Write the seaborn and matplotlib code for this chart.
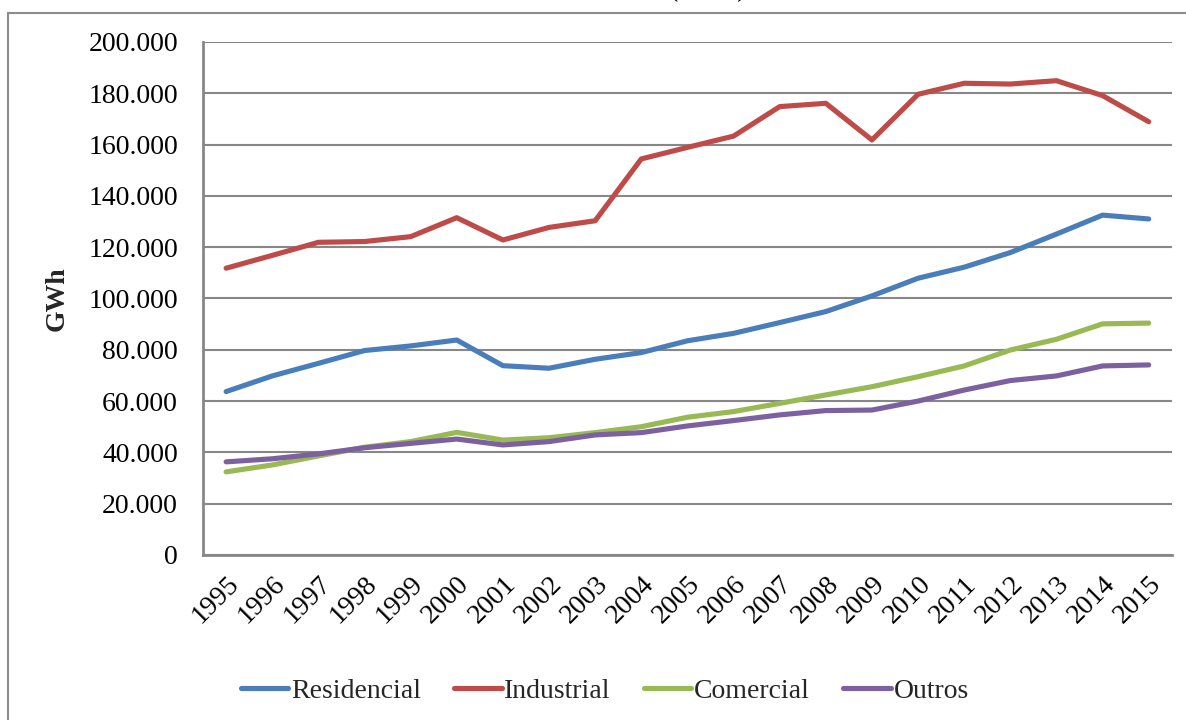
import matplotlib
matplotlib.use("Agg")
import matplotlib.pyplot as plt
import matplotlib.ticker as mticker
from matplotlib.patches import Rectangle
from matplotlib.lines import Line2D
import seaborn as sns
import pandas as pd

# Consumo de energia elétrica por classe, em GWh
anos = [str(a) for a in range(1995, 2016)]
residencial = [63.7, 69.8, 74.7, 79.7, 81.5, 83.8, 73.8, 72.8, 76.3, 78.9, 83.5,
               86.4, 90.6, 94.9, 101.0, 107.9, 112.2, 117.9, 125.1, 132.5, 131.0]
industrial = [111.8, 116.8, 121.9, 122.2, 124.1, 131.5, 122.8, 127.7, 130.3, 154.4, 158.9,
              163.3, 174.8, 176.1, 161.8, 179.6, 183.9, 183.6, 184.9, 179.1, 168.9]
comercial = [32.4, 35.1, 38.6, 42.0, 44.2, 47.8, 44.8, 45.7, 47.7, 50.0, 53.7,
             55.9, 59.1, 62.4, 65.6, 69.5, 73.7, 79.9, 84.1, 90.1, 90.4]
outros = [36.3, 37.5, 39.4, 41.8, 43.5, 45.2, 42.9, 44.2, 46.8, 47.7, 50.3,
          52.4, 54.6, 56.3, 56.5, 60.0, 64.3, 68.0, 69.8, 73.7, 74.1]

classes = ["Residencial", "Industrial", "Comercial", "Outros"]
cores = ["#4A7EBB", "#BE4B48", "#98B954", "#7D60A0"]

series = {"Residencial": residencial, "Industrial": industrial,
          "Comercial": comercial, "Outros": outros}
rows = []
for nome, vals in series.items():
    for i, v in enumerate(vals):
        rows.append({"pos": i, "ano": anos[i], "classe": nome, "GWh": v * 1000})
df = pd.DataFrame(rows)

sns.set_theme(style="white")
plt.rcParams["font.family"] = ["Liberation Serif", "DejaVu Serif"]

fig = plt.figure(figsize=(11.86, 7.2), dpi=100)
ax = fig.add_axes([0.1712, 0.2292, 0.8168, 0.7125])

# outer chart frame
fig.patches.append(Rectangle((8 / 1186, -0.05), 1.2, 0.05 + (720 - 13) / 720,
                             transform=fig.transFigure, fill=False,
                             edgecolor="#8C8C8C", linewidth=1.5, zorder=0))

sns.lineplot(data=df, x="pos", y="GWh", hue="classe", hue_order=classes,
             palette=cores, linewidth=3.7, ax=ax, legend=False,
             solid_capstyle="round", solid_joinstyle="round", zorder=3)

ax.set_xlim(-0.5, len(anos) - 0.5)
ax.set_ylim(0, 200000)
ax.yaxis.set_major_locator(mticker.MultipleLocator(20000))
ax.yaxis.set_major_formatter(mticker.FuncFormatter(
    lambda v, p: "0" if v == 0 else f"{int(v):,}".replace(",", ".")))
ax.set_xticks(range(len(anos)))
ax.set_xticklabels(anos, rotation=45, ha="right", rotation_mode="anchor")
ax.tick_params(axis="both", labelsize=20, colors="black", length=0)
ax.tick_params(axis="y", pad=18)
ax.tick_params(axis="x", pad=12)

ax.grid(axis="y", color="#878787", linewidth=1.5)
ax.grid(axis="x", visible=False)
for s in ["top", "right"]:
    ax.spines[s].set_visible(False)
for s in ["left", "bottom"]:
    ax.spines[s].set_color("#878787")
    ax.spines[s].set_linewidth(2)

ax.set_xlabel("")
ax.set_ylabel("GWh", fontsize=20, fontweight="bold")
ax.yaxis.set_label_coords(-0.138, 0.5)

handles = [Line2D([0], [0], color=c, linewidth=3.7, solid_capstyle="round")
           for c in cores]
fig.legend(handles, classes, loc="center", bbox_to_anchor=(0.51, 0.040),
           ncol=4, frameon=False, fontsize=20, handlelength=1.7,
           handletextpad=0.1, columnspacing=1.2)

# title line, running above the top of the frame
fig.text(0.597, 1.0 + 4 / 720, "(GWh)", ha="center", va="baseline", fontsize=20,
         color="black")

fig.savefig("out.png", dpi=100)
